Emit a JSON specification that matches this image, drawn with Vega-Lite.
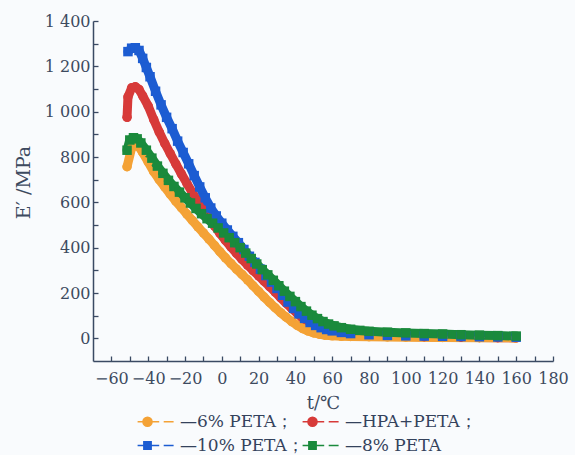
{
  "$schema": "https://vega.github.io/schema/vega-lite/v6.json",
  "width": 460,
  "height": 340,
  "autosize": "none",
  "padding": {"left": 93, "top": 21, "right": 22, "bottom": 94},
  "background": "#f9fbfd",
  "config": {"view": {"stroke": null}, "font": "DejaVu Serif"},
  "resolve": {"legend": {"color": "independent", "stroke": "independent", "shape": "independent"}},
  "data": {"values": [
    {"series": "HPA+PETA", "t": -51.5, "E": 975}, {"series": "HPA+PETA", "t": -51, "E": 1065}, {"series": "HPA+PETA", "t": -49, "E": 1105}, {"series": "HPA+PETA", "t": -47, "E": 1110}, {"series": "HPA+PETA", "t": -45, "E": 1098}, {"series": "HPA+PETA", "t": -43, "E": 1070}, {"series": "HPA+PETA", "t": -40, "E": 1025}, {"series": "HPA+PETA", "t": -37, "E": 965}, {"series": "HPA+PETA", "t": -34, "E": 910}, {"series": "HPA+PETA", "t": -31, "E": 860}, {"series": "HPA+PETA", "t": -28, "E": 815}, {"series": "HPA+PETA", "t": -25, "E": 770}, {"series": "HPA+PETA", "t": -22, "E": 726}, {"series": "HPA+PETA", "t": -19, "E": 684}, {"series": "HPA+PETA", "t": -16, "E": 643}, {"series": "HPA+PETA", "t": -13, "E": 604}, {"series": "HPA+PETA", "t": -10, "E": 566}, {"series": "HPA+PETA", "t": -7, "E": 530}, {"series": "HPA+PETA", "t": -4, "E": 496}, {"series": "HPA+PETA", "t": -1, "E": 463}, {"series": "HPA+PETA", "t": 2, "E": 432}, {"series": "HPA+PETA", "t": 5, "E": 403}, {"series": "HPA+PETA", "t": 8, "E": 375}, {"series": "HPA+PETA", "t": 11, "E": 348}, {"series": "HPA+PETA", "t": 14, "E": 323}, {"series": "HPA+PETA", "t": 17, "E": 299}, {"series": "HPA+PETA", "t": 20, "E": 276}, {"series": "HPA+PETA", "t": 23, "E": 252}, {"series": "HPA+PETA", "t": 26, "E": 228}, {"series": "HPA+PETA", "t": 29, "E": 204}, {"series": "HPA+PETA", "t": 32, "E": 179}, {"series": "HPA+PETA", "t": 35, "E": 155}, {"series": "HPA+PETA", "t": 38, "E": 132}, {"series": "HPA+PETA", "t": 41, "E": 110}, {"series": "HPA+PETA", "t": 44, "E": 88}, {"series": "HPA+PETA", "t": 47, "E": 70}, {"series": "HPA+PETA", "t": 50, "E": 55}, {"series": "HPA+PETA", "t": 53, "E": 44}, {"series": "HPA+PETA", "t": 56, "E": 35}, {"series": "HPA+PETA", "t": 60, "E": 27}, {"series": "HPA+PETA", "t": 65, "E": 20}, {"series": "HPA+PETA", "t": 70, "E": 16}, {"series": "HPA+PETA", "t": 80, "E": 12}, {"series": "HPA+PETA", "t": 90, "E": 10}, {"series": "HPA+PETA", "t": 100, "E": 8}, {"series": "HPA+PETA", "t": 110, "E": 7}, {"series": "HPA+PETA", "t": 120, "E": 6}, {"series": "HPA+PETA", "t": 130, "E": 5}, {"series": "HPA+PETA", "t": 140, "E": 4}, {"series": "HPA+PETA", "t": 150, "E": 3}, {"series": "HPA+PETA", "t": 160, "E": 2},
    {"series": "10% PETA", "t": -51, "E": 1265}, {"series": "10% PETA", "t": -49, "E": 1280}, {"series": "10% PETA", "t": -47, "E": 1282}, {"series": "10% PETA", "t": -45, "E": 1270}, {"series": "10% PETA", "t": -43, "E": 1235}, {"series": "10% PETA", "t": -41, "E": 1195}, {"series": "10% PETA", "t": -39, "E": 1154}, {"series": "10% PETA", "t": -36, "E": 1090}, {"series": "10% PETA", "t": -33, "E": 1030}, {"series": "10% PETA", "t": -30, "E": 975}, {"series": "10% PETA", "t": -27, "E": 925}, {"series": "10% PETA", "t": -24, "E": 870}, {"series": "10% PETA", "t": -21, "E": 820}, {"series": "10% PETA", "t": -18, "E": 770}, {"series": "10% PETA", "t": -15, "E": 718}, {"series": "10% PETA", "t": -12, "E": 668}, {"series": "10% PETA", "t": -9, "E": 620}, {"series": "10% PETA", "t": -6, "E": 575}, {"series": "10% PETA", "t": -3, "E": 540}, {"series": "10% PETA", "t": 0, "E": 508}, {"series": "10% PETA", "t": 3, "E": 478}, {"series": "10% PETA", "t": 6, "E": 450}, {"series": "10% PETA", "t": 9, "E": 422}, {"series": "10% PETA", "t": 12, "E": 392}, {"series": "10% PETA", "t": 15, "E": 362}, {"series": "10% PETA", "t": 18, "E": 335}, {"series": "10% PETA", "t": 21, "E": 305}, {"series": "10% PETA", "t": 24, "E": 277}, {"series": "10% PETA", "t": 27, "E": 248}, {"series": "10% PETA", "t": 30, "E": 220}, {"series": "10% PETA", "t": 33, "E": 190}, {"series": "10% PETA", "t": 36, "E": 160}, {"series": "10% PETA", "t": 39, "E": 132}, {"series": "10% PETA", "t": 42, "E": 108}, {"series": "10% PETA", "t": 45, "E": 88}, {"series": "10% PETA", "t": 48, "E": 70}, {"series": "10% PETA", "t": 51, "E": 57}, {"series": "10% PETA", "t": 54, "E": 47}, {"series": "10% PETA", "t": 57, "E": 39}, {"series": "10% PETA", "t": 60, "E": 33}, {"series": "10% PETA", "t": 65, "E": 26}, {"series": "10% PETA", "t": 70, "E": 21}, {"series": "10% PETA", "t": 80, "E": 16}, {"series": "10% PETA", "t": 90, "E": 13}, {"series": "10% PETA", "t": 100, "E": 11}, {"series": "10% PETA", "t": 110, "E": 10}, {"series": "10% PETA", "t": 120, "E": 9}, {"series": "10% PETA", "t": 130, "E": 8}, {"series": "10% PETA", "t": 140, "E": 7}, {"series": "10% PETA", "t": 150, "E": 6}, {"series": "10% PETA", "t": 160, "E": 5},
    {"series": "6% PETA", "t": -51.5, "E": 757}, {"series": "6% PETA", "t": -49, "E": 840}, {"series": "6% PETA", "t": -47, "E": 852}, {"series": "6% PETA", "t": -45, "E": 845}, {"series": "6% PETA", "t": -43, "E": 820}, {"series": "6% PETA", "t": -40, "E": 778}, {"series": "6% PETA", "t": -37, "E": 735}, {"series": "6% PETA", "t": -34, "E": 700}, {"series": "6% PETA", "t": -31, "E": 668}, {"series": "6% PETA", "t": -28, "E": 636}, {"series": "6% PETA", "t": -25, "E": 605}, {"series": "6% PETA", "t": -22, "E": 577}, {"series": "6% PETA", "t": -19, "E": 548}, {"series": "6% PETA", "t": -16, "E": 520}, {"series": "6% PETA", "t": -13, "E": 492}, {"series": "6% PETA", "t": -10, "E": 465}, {"series": "6% PETA", "t": -7, "E": 438}, {"series": "6% PETA", "t": -4, "E": 410}, {"series": "6% PETA", "t": -1, "E": 382}, {"series": "6% PETA", "t": 2, "E": 355}, {"series": "6% PETA", "t": 5, "E": 330}, {"series": "6% PETA", "t": 8, "E": 305}, {"series": "6% PETA", "t": 11, "E": 282}, {"series": "6% PETA", "t": 14, "E": 258}, {"series": "6% PETA", "t": 17, "E": 232}, {"series": "6% PETA", "t": 20, "E": 207}, {"series": "6% PETA", "t": 23, "E": 182}, {"series": "6% PETA", "t": 26, "E": 158}, {"series": "6% PETA", "t": 29, "E": 135}, {"series": "6% PETA", "t": 32, "E": 113}, {"series": "6% PETA", "t": 35, "E": 93}, {"series": "6% PETA", "t": 38, "E": 74}, {"series": "6% PETA", "t": 41, "E": 57}, {"series": "6% PETA", "t": 44, "E": 43}, {"series": "6% PETA", "t": 47, "E": 32}, {"series": "6% PETA", "t": 50, "E": 24}, {"series": "6% PETA", "t": 53, "E": 18}, {"series": "6% PETA", "t": 56, "E": 14}, {"series": "6% PETA", "t": 60, "E": 11}, {"series": "6% PETA", "t": 65, "E": 9}, {"series": "6% PETA", "t": 70, "E": 8}, {"series": "6% PETA", "t": 80, "E": 7}, {"series": "6% PETA", "t": 90, "E": 6}, {"series": "6% PETA", "t": 100, "E": 5}, {"series": "6% PETA", "t": 120, "E": 4}, {"series": "6% PETA", "t": 140, "E": 3}, {"series": "6% PETA", "t": 160, "E": 2},
    {"series": "8% PETA", "t": -51.5, "E": 830}, {"series": "8% PETA", "t": -50, "E": 875}, {"series": "8% PETA", "t": -48, "E": 885}, {"series": "8% PETA", "t": -46, "E": 880}, {"series": "8% PETA", "t": -44, "E": 862}, {"series": "8% PETA", "t": -41, "E": 830}, {"series": "8% PETA", "t": -38, "E": 795}, {"series": "8% PETA", "t": -35, "E": 760}, {"series": "8% PETA", "t": -32, "E": 728}, {"series": "8% PETA", "t": -29, "E": 697}, {"series": "8% PETA", "t": -26, "E": 670}, {"series": "8% PETA", "t": -23, "E": 645}, {"series": "8% PETA", "t": -20, "E": 620}, {"series": "8% PETA", "t": -17, "E": 597}, {"series": "8% PETA", "t": -14, "E": 573}, {"series": "8% PETA", "t": -11, "E": 550}, {"series": "8% PETA", "t": -8, "E": 528}, {"series": "8% PETA", "t": -5, "E": 508}, {"series": "8% PETA", "t": -2, "E": 487}, {"series": "8% PETA", "t": 1, "E": 465}, {"series": "8% PETA", "t": 4, "E": 444}, {"series": "8% PETA", "t": 7, "E": 422}, {"series": "8% PETA", "t": 10, "E": 400}, {"series": "8% PETA", "t": 13, "E": 376}, {"series": "8% PETA", "t": 16, "E": 352}, {"series": "8% PETA", "t": 19, "E": 328}, {"series": "8% PETA", "t": 22, "E": 303}, {"series": "8% PETA", "t": 25, "E": 280}, {"series": "8% PETA", "t": 28, "E": 256}, {"series": "8% PETA", "t": 31, "E": 232}, {"series": "8% PETA", "t": 34, "E": 208}, {"series": "8% PETA", "t": 37, "E": 185}, {"series": "8% PETA", "t": 40, "E": 162}, {"series": "8% PETA", "t": 43, "E": 140}, {"series": "8% PETA", "t": 46, "E": 120}, {"series": "8% PETA", "t": 49, "E": 102}, {"series": "8% PETA", "t": 52, "E": 87}, {"series": "8% PETA", "t": 55, "E": 74}, {"series": "8% PETA", "t": 58, "E": 63}, {"series": "8% PETA", "t": 61, "E": 55}, {"series": "8% PETA", "t": 65, "E": 47}, {"series": "8% PETA", "t": 70, "E": 40}, {"series": "8% PETA", "t": 75, "E": 35}, {"series": "8% PETA", "t": 80, "E": 31}, {"series": "8% PETA", "t": 90, "E": 27}, {"series": "8% PETA", "t": 100, "E": 24}, {"series": "8% PETA", "t": 110, "E": 21}, {"series": "8% PETA", "t": 120, "E": 19}, {"series": "8% PETA", "t": 130, "E": 16}, {"series": "8% PETA", "t": 140, "E": 14}, {"series": "8% PETA", "t": 150, "E": 12}, {"series": "8% PETA", "t": 160, "E": 10}
  ]},
  "encoding": {
    "x": {
      "field": "t", "type": "quantitative",
      "scale": {"domain": [-70, 180], "nice": false, "zero": false},
      "axis": {
        "values": [-60, -50, -40, -30, -20, -10, 0, 10, 20, 30, 40, 50, 60, 70, 80, 90, 100, 110, 120, 130, 140, 150, 160, 170, 180],
        "labelExpr": "datum.value % 20 == 0 ? datum.label : ''",
        "grid": false, "tickSize": -5, "tickWidth": 1.3, "tickColor": "#3a4a63",
        "domainColor": "#3a4a63", "domainWidth": 1.5,
        "labelFont": "DejaVu Serif", "labelFontSize": 16, "labelColor": "#3d4a5f",
        "labelPadding": 14, "labelOverlap": false, "labelFlush": false,
        "title": "t/℃", "titleFont": "DejaVu Serif", "titleFontSize": 18, "titleFontWeight": "normal", "titleColor": "#3d4a5f",
        "titleX": 230, "titleY": 42, "titleBaseline": "middle", "titleAlign": "center"
      }
    },
    "y": {
      "field": "E", "type": "quantitative",
      "scale": {"domain": [-100, 1400], "nice": false, "zero": false},
      "axis": {
        "values": [0, 100, 200, 300, 400, 500, 600, 700, 800, 900, 1000, 1100, 1200, 1300, 1400],
        "labelExpr": "datum.value % 200 == 0 ? replace(format(datum.value, ','), ',', ' ') : ''",
        "grid": false, "tickSize": -5, "tickWidth": 1.3, "tickColor": "#3a4a63",
        "domainColor": "#3a4a63", "domainWidth": 1.5,
        "labelFont": "DejaVu Serif", "labelFontSize": 16, "labelColor": "#3d4a5f",
        "labelPadding": 8, "labelOverlap": false, "labelFlush": false,
        "title": "E′   /MPa", "titleFont": "DejaVu Serif", "titleFontSize": 19, "titleFontWeight": "normal", "titleColor": "#3d4a5f",
        "titleX": -70, "titleY": 161, "titleAngle": -90, "titleBaseline": "middle", "titleAlign": "center"
      }
    }
  },
  "layer": [
    {"mark": {"type": "line", "strokeWidth": 9, "strokeCap": "round", "strokeJoin": "round"},
     "encoding": {"color": {"field": "series", "type": "nominal", "scale": {"domain": ["6% PETA", "HPA+PETA", "10% PETA", "8% PETA"], "range": ["#F4A236", "#D73A39", "#1C5CD2", "#1A8A3C"]}, "legend": null}}},
    {"transform": [{"filter": {"field": "series", "oneOf": ["6% PETA", "HPA+PETA"]}}],
     "mark": {"type": "point", "shape": "circle", "filled": true, "size": 90, "opacity": 1},
     "encoding": {"color": {"field": "series", "type": "nominal", "legend": null}}},
    {"transform": [{"filter": {"field": "series", "oneOf": ["10% PETA", "8% PETA"]}}],
     "mark": {"type": "point", "shape": "square", "filled": true, "size": 90, "opacity": 1},
     "encoding": {"color": {"field": "series", "type": "nominal", "legend": null}}},
    {"mark": {"type": "point", "filled": true, "opacity": 0, "strokeWidth": 1.6},
     "encoding": {
       "color": {
         "field": "series", "type": "nominal",
         "legend": {
           "orient": "none", "legendX": 46, "legendY": 392, "direction": "horizontal", "columns": 2,
           "title": null, "padding": 0, "columnPadding": -10, "rowPadding": 6,
           "symbolSize": 81, "symbolStrokeWidth": 1.6, "symbolOpacity": 1, "labelOffset": 24,
           "labelFont": "DejaVu Serif", "labelFontSize": 17, "labelColor": "#34425c",
           "labelExpr": "'—' + datum.label + (datum.label == '8% PETA' ? '' : '；')",
           "labelLimit": 300
         }
       },
       "stroke": {
         "field": "series", "type": "nominal",
         "scale": {"domain": ["6% PETA", "HPA+PETA", "10% PETA", "8% PETA"], "range": ["#F4A236", "#D73A39", "#1C5CD2", "#1A8A3C"]},
         "legend": {
           "orient": "none", "legendX": 46, "legendY": 392, "direction": "horizontal", "columns": 2,
           "title": null, "padding": 0, "columnPadding": -10, "rowPadding": 6,
           "symbolSize": 81, "symbolStrokeWidth": 1.6, "symbolOpacity": 1, "labelOffset": 24,
           "labelFont": "DejaVu Serif", "labelFontSize": 17, "labelColor": "#34425c",
           "labelExpr": "'—' + datum.label + (datum.label == '8% PETA' ? '' : '；')",
           "labelLimit": 300
         }
       },
       "shape": {
         "field": "series", "type": "nominal",
         "scale": {"domain": ["6% PETA", "HPA+PETA", "10% PETA", "8% PETA"], "range": [
           "M-2.2,0H-1M1,0H2.6M3.6,0H5.8M-1,0A1,1,0,1,1,1,0A1,1,0,1,1,-1,0Z",
           "M-2.2,0H-1M1,0H2.6M3.6,0H5.8M-1,0A1,1,0,1,1,1,0A1,1,0,1,1,-1,0Z",
           "M-2.2,0H-0.8M0.8,0H2.6M3.6,0H5.8M-0.8,-0.8H0.8V0.8H-0.8Z",
           "M-2.2,0H-0.8M0.8,0H2.6M3.6,0H5.8M-0.8,-0.8H0.8V0.8H-0.8Z"
         ]},
         "legend": {
           "orient": "none", "legendX": 46, "legendY": 392, "direction": "horizontal", "columns": 2,
           "title": null, "padding": 0, "columnPadding": -10, "rowPadding": 6,
           "symbolSize": 81, "symbolStrokeWidth": 1.6, "symbolOpacity": 1, "labelOffset": 24,
           "labelFont": "DejaVu Serif", "labelFontSize": 17, "labelColor": "#34425c",
           "labelExpr": "'—' + datum.label + (datum.label == '8% PETA' ? '' : '；')",
           "labelLimit": 300
         }
       }
     }}
  ]
}
